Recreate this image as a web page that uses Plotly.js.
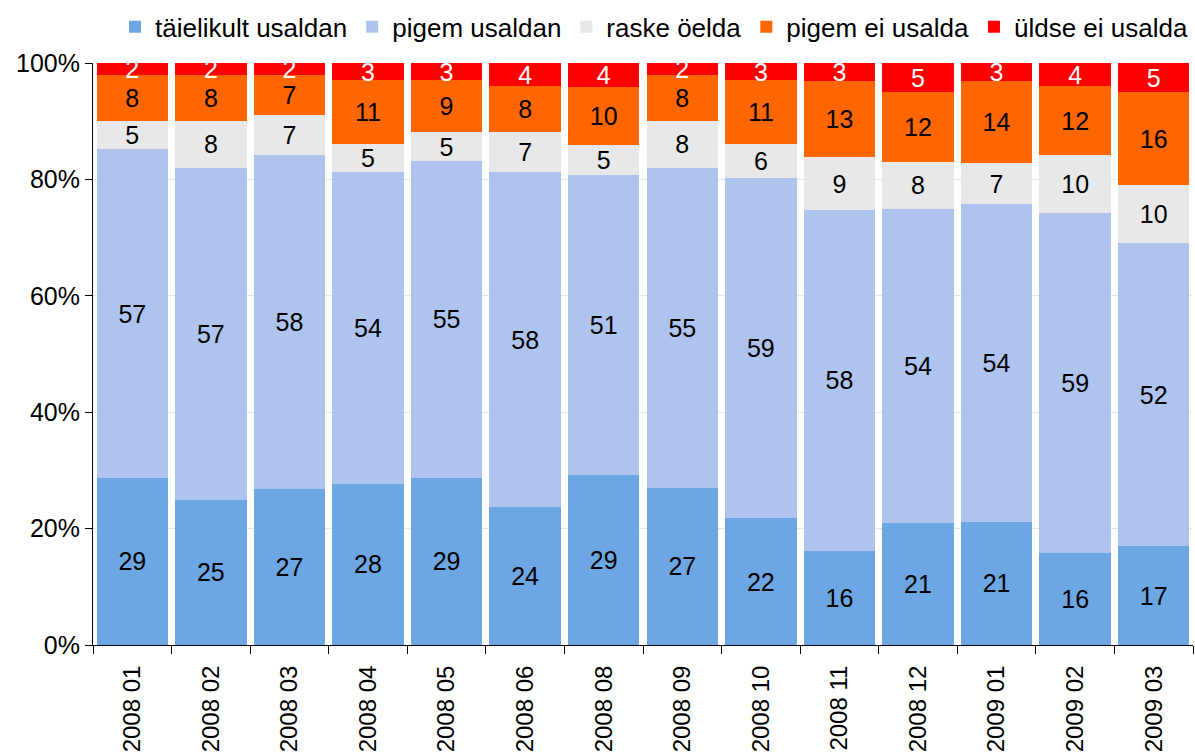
<!DOCTYPE html>
<html>
<head>
<meta charset="utf-8">
<script src="https://cdn.plot.ly/plotly-3.0.1.min.js"></script>
<style>html,body{margin:0;padding:0;background:#fff;}#chart{width:1195px;height:756px;}</style>
</head>
<body>
<div id="chart"></div>
<script>
const categories = ["2008 01","2008 02","2008 03","2008 04","2008 05","2008 06","2008 08","2008 09","2008 10","2008 11","2008 12","2009 01","2009 02","2009 03"];
const taielikultUsaldan = [29,25,27,28,29,24,29,27,22,16,21,21,16,17];
const pigemUsaldan      = [57,57,58,54,55,58,51,55,59,58,54,54,59,52];
const raskeOelda        = [5,8,7,5,5,7,5,8,6,9,8,7,10,10];
const pigemEiUsalda     = [8,8,7,11,9,8,10,8,11,13,12,14,12,16];
const uldseEiUsalda     = [2,2,2,3,3,4,4,2,3,3,5,3,4,5];
const yTickValues = [0,20,40,60,80,100];
const yTickLabels = ["0%","20%","40%","60%","80%","100%"];

const seriesNames = ["täielikult usaldan","pigem usaldan","raske öelda","pigem ei usalda","üldse ei usalda"];
const seriesData = [taielikultUsaldan, pigemUsaldan, raskeOelda, pigemEiUsalda, uldseEiUsalda];
const seriesColors = ["#6CA7E4","#AEC4EE","#E8E8E8","#FF6600","#FF0000"];
const textColors = ["#000","#000","#000","#000","#fff"];

const FONT = "Liberation Sans, Arial, sans-serif";

const traces = seriesData.map((vals, i) => ({
  type: "bar",
  name: seriesNames[i],
  x: categories,
  y: vals,
  text: vals.map(String),
  texttemplate: "%{text}",
  textposition: "inside",
  insidetextanchor: "middle",
  constraintext: "none",
  cliponaxis: true,
  textangle: 0,
  textfont: {family: FONT, size: 25, color: textColors[i]},
  marker: {color: seriesColors[i], line: {width: 0}},
  hoverinfo: "skip"
}));

const layout = {
  width: 1195,
  height: 756,
  margin: {l: 93, r: 2, t: 63, b: 111},
  paper_bgcolor: "#fff",
  plot_bgcolor: "#fff",
  barmode: "stack",
  barnorm: "percent",
  bargap: 0.09,
  font: {family: FONT, size: 25, color: "#000"},
  showlegend: true,
  legend: {
    orientation: "h",
    x: 1.0, xanchor: "right",
    y: 1.062, yanchor: "middle",
    font: {family: FONT, size: 26, color: "#000"},
    traceorder: "normal",
    itemwidth: 30,
    bgcolor: "rgba(0,0,0,0)"
  },
  xaxis: {
    type: "category",
    tickangle: -90,
    tickson: "boundaries",
    ticks: "outside",
    ticklen: 8,
    tickcolor: "#000",
    ticklabelstandoff: 10,
    showline: true,
    linecolor: "#000",
    linewidth: 1,
    showgrid: false,
    tickfont: {family: FONT, size: 24, color: "#000"},
    fixedrange: true
  },
  yaxis: {
    range: [0, 100],
    tickmode: "array",
    tickvals: yTickValues,
    ticktext: yTickLabels,
    ticks: "outside",
    ticklen: 7,
    tickcolor: "#000",
    showline: true,
    linecolor: "#000",
    linewidth: 1,
    showgrid: true,
    gridcolor: "#e6e6e6",
    zeroline: false,
    tickfont: {family: FONT, size: 25, color: "#000"},
    fixedrange: true
  }
};

Plotly.newPlot("chart", traces, layout, {staticPlot: true, displayModeBar: false});
</script>
</body>
</html>
